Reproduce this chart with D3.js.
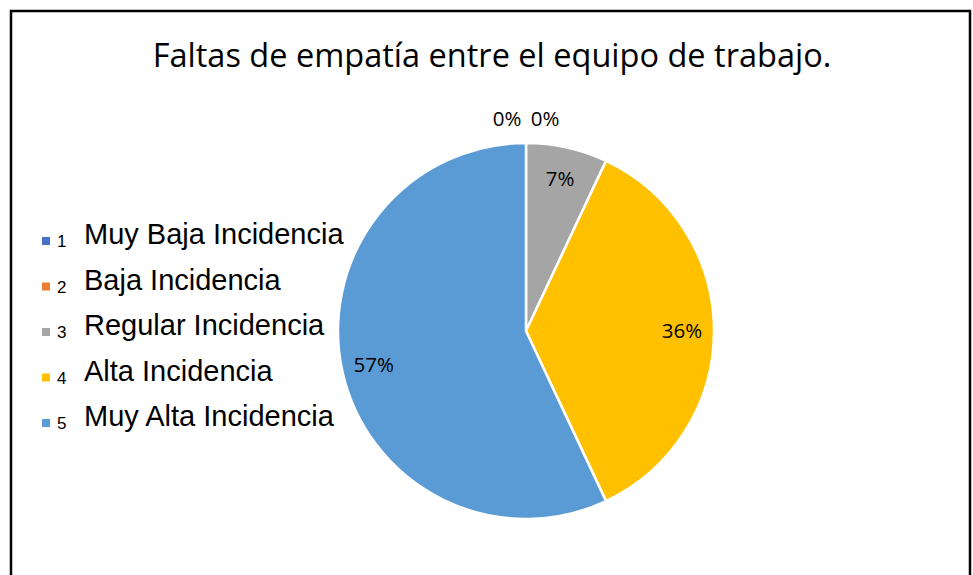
<!DOCTYPE html>
<html>
<head>
<meta charset="utf-8">
<script src="https://cdn.jsdelivr.net/npm/d3@7/dist/d3.min.js"></script>
<style>
    body { margin: 0; background: #fff; }
    svg { display: block; }
</style>
</head>
<body>
<div id="chart"></div>
<script>
// data
var categories = ["1", "2", "3", "4", "5"];
var labels = ["Muy Baja Incidencia", "Baja Incidencia", "Regular Incidencia", "Alta Incidencia", "Muy Alta Incidencia"];
var values = [0, 0, 7, 36, 57];
var colors = ["#4472C4", "#ED7D31", "#A5A5A5", "#FFC000", "#5B9BD5"];
var title = "Faltas de empatía entre el equipo de trabajo.";

var width = 973, height = 575;
var cx = 526, cy = 331, radius = 188;

var svg = d3.select("#chart").append("svg")
    .attr("width", width)
    .attr("height", height);

// frame
svg.append("path")
    .attr("d", "M11,575 V11 H970 V575")
    .attr("fill", "none")
    .attr("stroke", "#000")
    .attr("stroke-width", 2.5);

var t = svg.append("text")
    .attr("x", 492)
    .attr("y", 67)
    .attr("text-anchor", "middle")
    .style("font-family", "'Open Sans', sans-serif")
    .style("font-size", "30px")
    .attr("fill", "#000")
    .text(title);
// fit title width to the reference (~679px)
var tw = t.node().getComputedTextLength();
t.style("font-size", (30 * 679 / tw) + "px");

var pie = d3.pie().sort(null).value(function(d) { return d; });
var arcs = pie(values);
var arc = d3.arc().innerRadius(0).outerRadius(radius);

var g = svg.append("g").attr("transform", "translate(" + cx + "," + cy + ")");

g.selectAll("path")
    .data(arcs)
    .enter().append("path")
    .attr("d", arc)
    .attr("fill", function(d, i) { return colors[i]; })
    .attr("stroke", "#fff")
    .attr("stroke-width", 2.5);

// data labels
var inner = d3.arc().innerRadius(radius * 0.83).outerRadius(radius * 0.83);
var outer = d3.arc().innerRadius(radius * 1.1).outerRadius(radius * 1.1);

g.selectAll("text.lbl")
    .data(arcs)
    .enter().append("text")
    .attr("class", "lbl")
    .attr("transform", function(d, i) {
        if (d.data === 0) {
            var p = outer.centroid(d);
            var dx = i === 0 ? -19 : 19;
            return "translate(" + (p[0] + dx) + "," + (p[1] - 5) + ")";
        }
        var c = inner.centroid(d);
        return "translate(" + c + ")";
    })
    .attr("text-anchor", "middle")
    .attr("dy", "0.35em")
    .style("font-family", "'Open Sans', sans-serif")
    .style("font-size", "20.5px")
    .attr("fill", "#000")
    .text(function(d) { return d.data + "%"; });

// legend
var legend = svg.selectAll("g.legend")
    .data(categories)
    .enter().append("g")
    .attr("class", "legend")
    .attr("transform", function(d, i) { return "translate(0," + (244 + i * 45.5) + ")"; });

legend.append("rect")
    .attr("x", 42)
    .attr("y", -7)
    .attr("width", 8)
    .attr("height", 8)
    .attr("fill", function(d, i) { return colors[i]; });

legend.append("text")
    .attr("x", 57)
    .attr("y", 3)
    .style("font-family", "'Liberation Sans', Arial, sans-serif")
    .style("font-size", "17px")
    .attr("fill", "#000")
    .text(function(d) { return d; });

legend.append("text")
    .attr("x", 84)
    .attr("y", 0)
    .style("font-family", "'Liberation Sans', Arial, sans-serif")
    .style("font-size", "29px")
    .attr("fill", "#000")
    .text(function(d, i) { return labels[i]; });
</script>
</body>
</html>
